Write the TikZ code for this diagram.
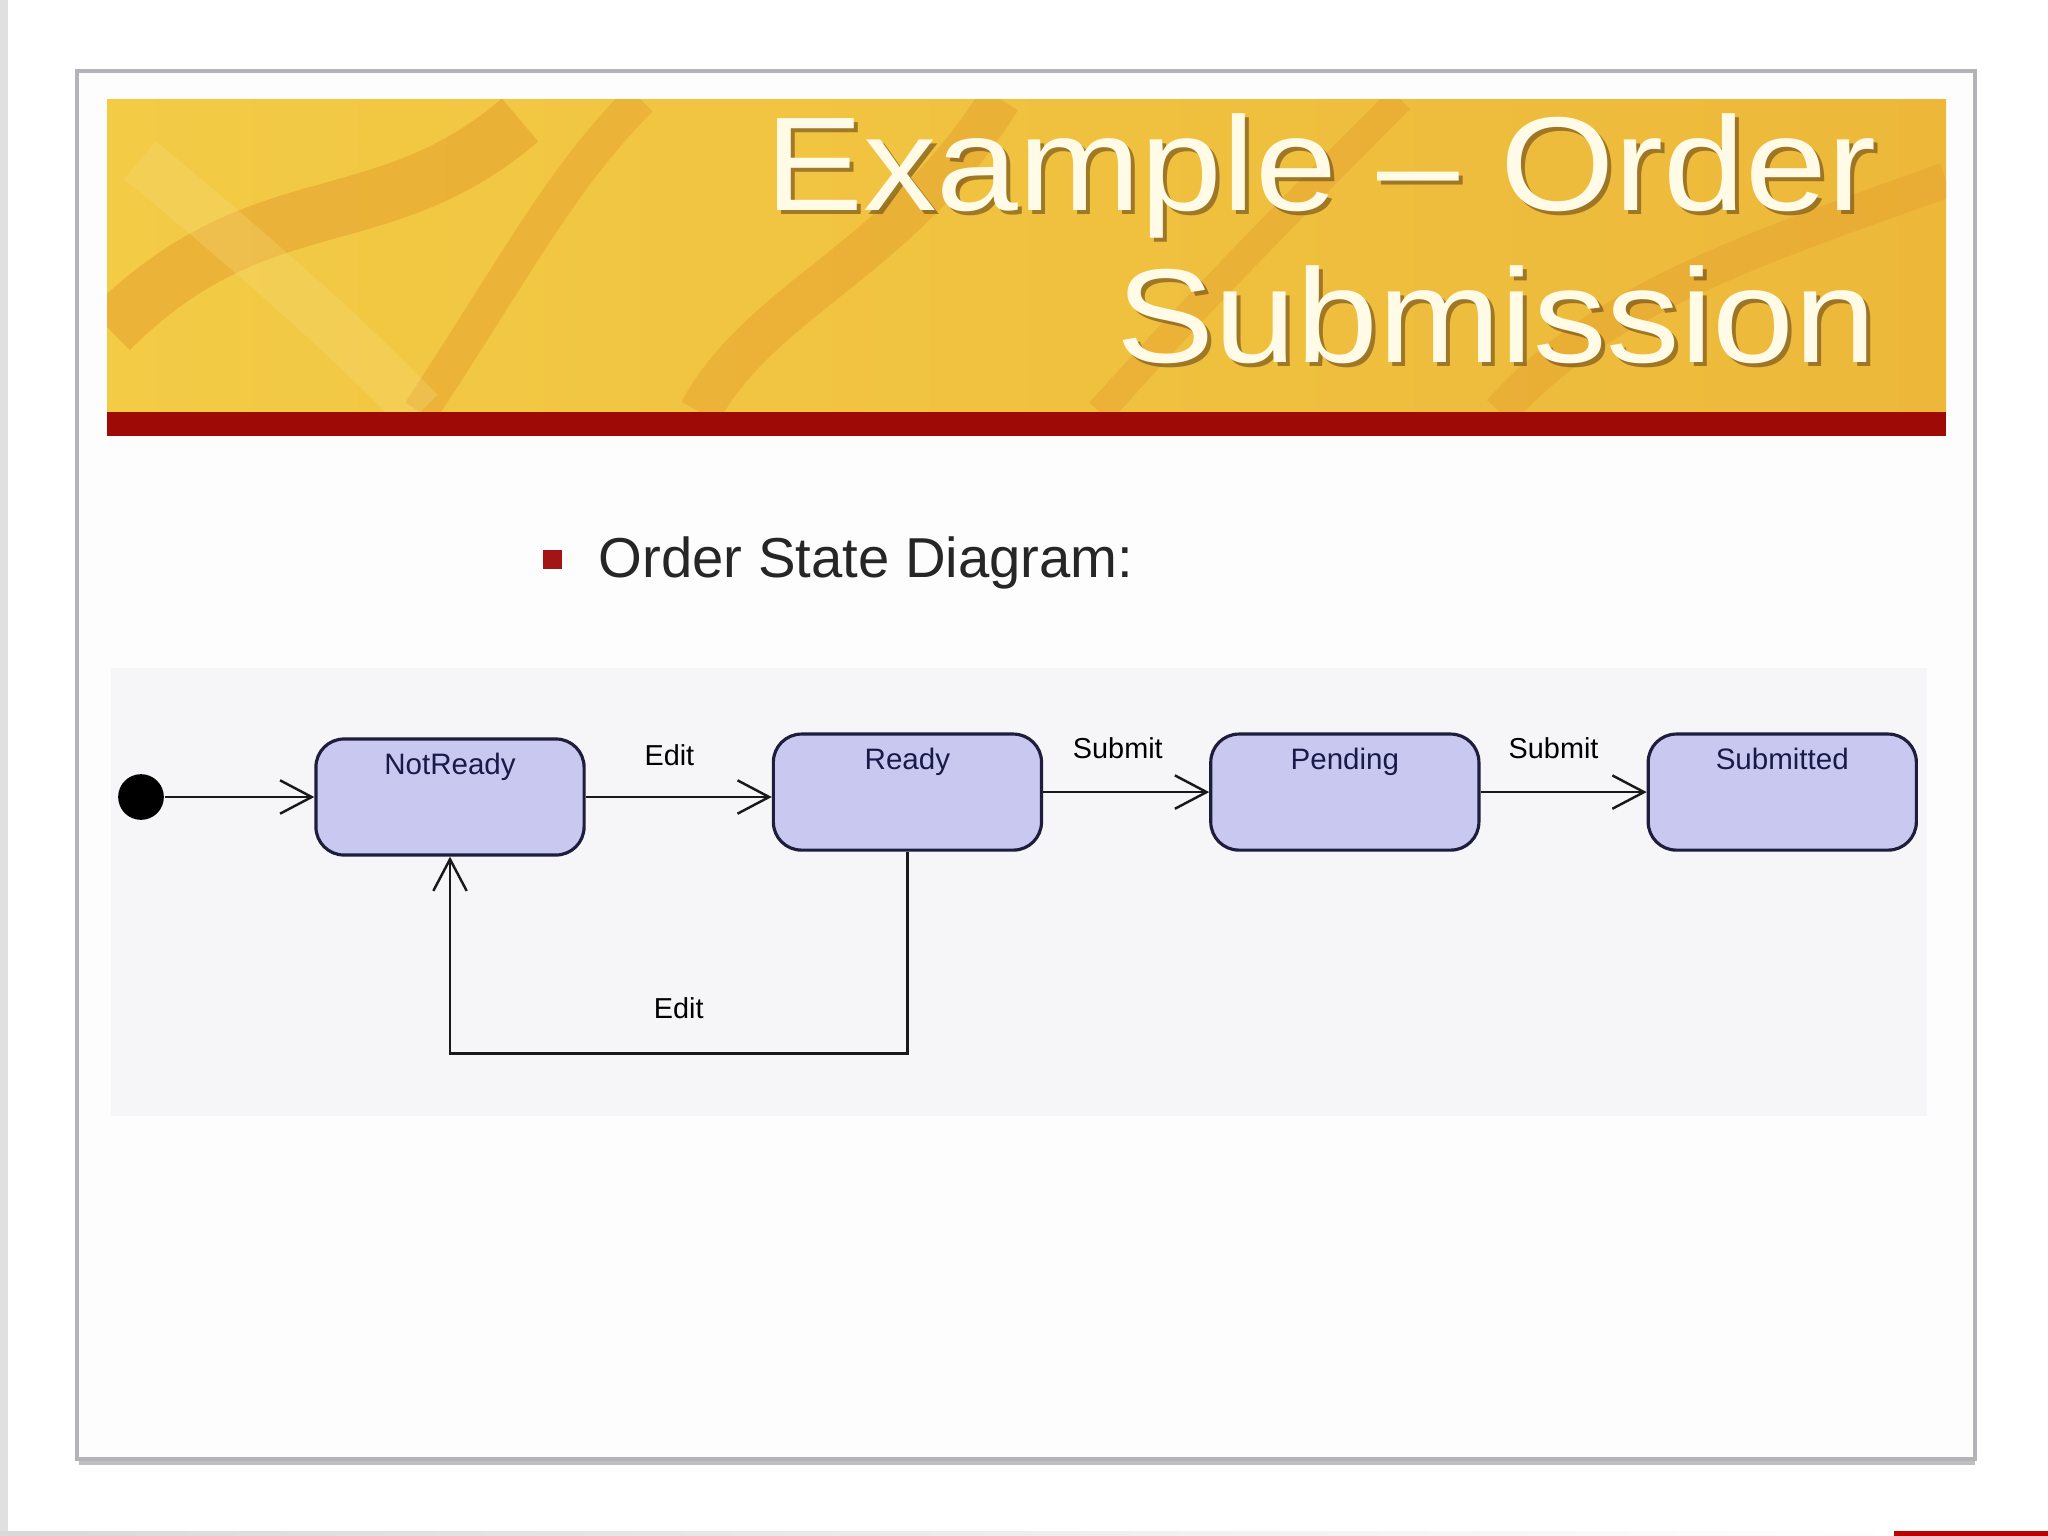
\documentclass[tikz,border=0pt]{standalone}
\usepackage{fontspec}
\setmainfont{Liberation Sans}
\newfontfamily\titlefont[FakeStretch=1.1]{Liberation Sans}
\usetikzlibrary{arrows.meta, positioning, calc}
\definecolor{slidewhite}{HTML}{FDFDFE}
\definecolor{panelgray}{HTML}{F6F6F8}
\definecolor{framegray}{HTML}{B4B4B8}
\definecolor{bannerred}{HTML}{9E0A06}
\definecolor{bulletred}{HTML}{A31515}
\definecolor{goldlight}{HTML}{F3CB45}
\definecolor{goldmid}{HTML}{EDB83A}
\definecolor{goldorange}{HTML}{E2982A}
\definecolor{titlecream}{HTML}{FFFBE6}
\definecolor{titleshadow}{HTML}{5E3E12}
\definecolor{statefill}{HTML}{C8C8F0}
\definecolor{stateline}{HTML}{1E1E3C}
\definecolor{statetext}{HTML}{1A1A4A}

\begin{document}
\begin{tikzpicture}[
    x=0.01cm, y=-0.01cm,
    >={Straight Barb[length=9pt, width=9.5pt]},
    statebox/.style={draw=stateline, fill=statefill, line width=0.9pt,
      rounded corners=8pt, minimum width=2.68cm, inner xsep=0pt, inner ysep=0pt,
      text height=10pt, text depth=23pt, text=statetext,
      font=\fontsize{8.4}{10}\selectfont},
    initdot/.style={circle, fill=black, minimum size=13pt, inner sep=0pt},
    trans/.style={->, line width=0.7pt, draw=black!90},
    translabel/.style={font=\fontsize{8.2}{10}\selectfont, inner sep=0pt},
    titletext/.style={font=\titlefont\fontsize{38}{40}\selectfont, anchor=base east, inner sep=0pt},
  ]

  % Page and slide frame
  \useasboundingbox (0,0) rectangle (2048,1536);
  \fill[white] (0,0) rectangle (2048,1536);
  \fill[black!12] (0,0) rectangle (8,1536);
  \shade[left color=black!15, right color=white] (0,1531) rectangle (1900,1536);
  \fill[red!75!black] (1894,1531) rectangle (2048,1536);
  \draw[black!25, line width=2pt] (79,1461) -- (1975,1461);
  \draw[framegray, fill=slidewhite, line width=1.2pt] (77,71) rectangle (1975,1459);

  % Banner
  \shade[left color=goldlight, middle color=goldorange!85!goldlight, right color=goldmid]
    (107,99) rectangle (1946,412);
  \begin{scope}
    \clip (107,99) rectangle (1946,412);
    \draw[goldorange, opacity=0.45, line width=16pt] (110,330) .. controls (260,180) and (380,240) .. (520,120);
    \draw[goldorange, opacity=0.40, line width=10pt] (420,412) .. controls (520,260) and (560,180) .. (640,99);
    \draw[goldorange, opacity=0.40, line width=12pt] (700,412) .. controls (760,300) and (900,260) .. (1000,99);
    \draw[goldorange, opacity=0.35, line width=8pt] (1100,412) .. controls (1200,300) and (1300,200) .. (1400,99);
    \draw[goldlight!70!white, opacity=0.30, line width=14pt] (140,160) .. controls (260,260) and (340,330) .. (420,412);
    \draw[goldorange, opacity=0.35, line width=10pt] (1500,412) .. controls (1600,300) and (1750,250) .. (1946,180);
  \end{scope}
  \fill[bannerred] (107,412) rectangle (1946,436);

  % Title
  \node[titletext, text=titleshadow, opacity=0.55] (titleAshadow) at (1881,214) {Example – Order};
  \node[titletext, text=titlecream] (titleA) at (1877,210) {Example – Order};
  \node[titletext, text=titleshadow, opacity=0.55] (titleBshadow) at (1881,366) {Submission};
  \node[titletext, text=titlecream] (titleB) at (1877,362) {Submission};

  % Bullet
  \node[fill=bulletred, minimum size=5.4pt, inner sep=0pt] (bullet) at (552,559) {};
  \node[anchor=base west, inner sep=0pt, text=black!85, font=\fontsize{16}{19}\selectfont]
    (heading) at (598,577) {Order State Diagram:};

  % Diagram panel
  \fill[panelgray] (111,668) rectangle (1927,1116);

  % States
  \node[initdot] (init) at (141,797) {};
  \node[statebox] (notready) at (450,797) {NotReady};
  \node[statebox, right=1.86cm of notready, yshift=1.4pt] (ready) {Ready};
  \node[statebox, right=1.66cm of ready] (pending) {Pending};
  \node[statebox, right=1.66cm of pending] (submitted) {Submitted};

  % Transitions
  \draw[trans] (init) -- (notready);
  \draw[trans] (notready.east) -- (notready.east -| ready.west)
    node[translabel, pos=0.45, above=3mm] (editA) {Edit};
  \draw[trans] (ready) -- (pending)
    node[translabel, pos=0.45, above=3.2mm] (submitA) {Submit};
  \draw[trans] (pending) -- (submitted)
    node[translabel, pos=0.44, above=3.2mm] (submitB) {Submit};
  \draw[trans] (ready.south) -- ++(0,202) -| (notready.south)
    node[translabel, pos=0.25, above=3.4mm] (editB) {Edit};

\end{tikzpicture}
\end{document}
